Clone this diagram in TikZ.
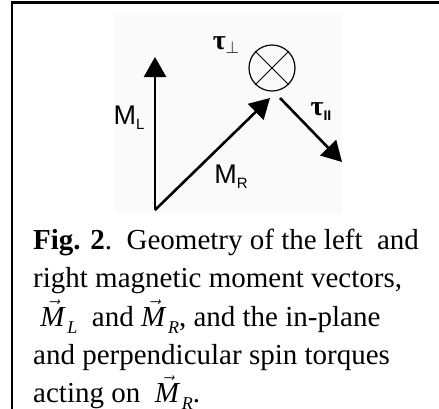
\documentclass[tikz,border=0pt]{standalone}
\usepackage{fontspec}
\setmainfont{Liberation Serif}
\setsansfont{Liberation Sans}
\usetikzlibrary{arrows.meta}

\newcommand{\lowsub}[1]{\raisebox{-5pt}{\fontsize{15}{15}\selectfont #1}}
\newcommand{\vecM}[1]{$\vec{\mbox{\textit{M}}}$\kern1.5pt\raisebox{-7pt}{\fontsize{18}{18}\selectfont\textit{#1}}}

\tikzset{
	moment/.style={line width=2.6pt, -{Triangle[length=20pt,width=22pt]}},
	vlabel/.style={font=\sffamily\fontsize{27}{27}\selectfont, inner sep=0pt},
	tlabel/.style={font=\bfseries\fontsize{28}{28}\selectfont, inner sep=0pt},
	capline/.style={anchor=base west, inner sep=0pt, font=\fontsize{29}{38}\selectfont},
}

\begin{document}
\begin{tikzpicture}[x=1pt,y=-1pt]
	\useasboundingbox (0,0) rectangle (439,408);
	\clip (0,0) rectangle (439,408);

	% pasted sketch and frame
	\fill[gray!4] (115,13) rectangle (342,213);
	\draw[line width=2.2pt] (12,430) -- (12,2.5) -- (460,2.5);

	\coordinate (o) at (155,210);
	\coordinate (mltip) at (155,57);
	\coordinate (mrtip) at (270,98);
	\coordinate (tpstart) at (280,98);
	\coordinate (tptip) at (342,162);

	\node (perp) at (272,68) [circle, draw, line width=1.2pt, minimum size=46pt, inner sep=0pt] {};
	\draw[line width=1pt] (perp.45) -- (perp.225);
	\draw[line width=1pt] (perp.135) -- (perp.315);

	\draw[moment] (o) -- (mltip);
	\draw[moment] (o) -- (mrtip);
	\draw[moment] (tpstart) -- (tptip);

	\node (ml) at (129,118) [vlabel] {M\lowsub{L}};
	\node (mr) at (231,177) [vlabel] {M\lowsub{R}};
	\node (tperp) at (226,45) [tlabel] {τ\raisebox{-4pt}{\fontsize{16}{16}\selectfont$\perp$}};
	\node (tpar) at (321,112) [tlabel] {τ\raisebox{-5pt}{\sffamily\bfseries\fontsize{14}{14}\selectfont II}};

	% caption
	\node (cap1) at (33,249) [capline] {\textbf{Fig. 2}.\ \ Geometry of the left\ \ and};
	\node (cap2) at (33,287) [capline] {right magnetic moment vectors,};
	\node (cap3) at (33,326) [capline] {\ \vecM{L}\ \ and\ \vecM{R}, and the in-plane};
	\node (cap4) at (33,364) [capline] {and perpendicular spin torques};
	\node (cap5) at (33,402) [capline] {acting on\ \ \vecM{R}.};
\end{tikzpicture}
\end{document}
